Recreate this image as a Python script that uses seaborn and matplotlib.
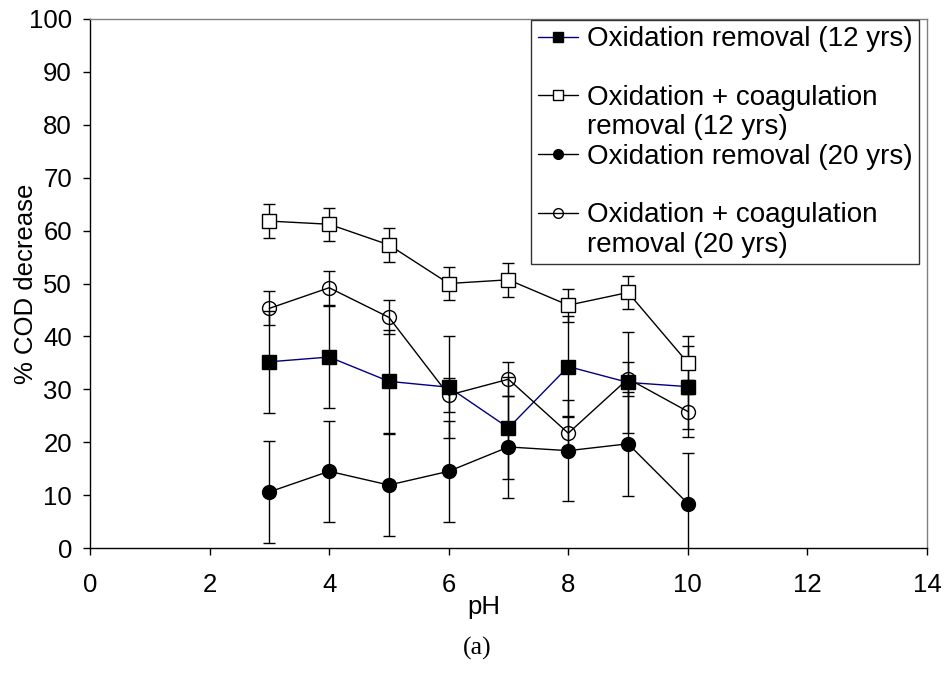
import matplotlib
matplotlib.use("Agg")
import matplotlib.pyplot as plt
from matplotlib.lines import Line2D
import seaborn as sns
import pandas as pd

ph = [3, 4, 5, 6, 7, 8, 9, 10]
ox12 = [35.2, 36.1, 31.5, 30.4, 22.7, 34.3, 31.3, 30.5]
ox12_err = [9.6, 9.6, 9.7, 9.6, 9.6, 9.6, 9.6, 9.6]
oxco12 = [61.8, 61.2, 57.3, 50.0, 50.7, 45.9, 48.3, 35.0]
oxco12_err = [3.2, 3.1, 3.2, 3.2, 3.2, 3.1, 3.1, 3.2]
ox20 = [10.6, 14.5, 11.9, 14.5, 19.1, 18.4, 19.7, 8.4]
ox20_err = [9.6, 9.6, 9.6, 9.5, 9.7, 9.6, 9.8, 9.6]
oxco20 = [45.3, 49.2, 43.6, 28.9, 31.9, 21.7, 32.0, 25.8]
oxco20_err = [3.2, 3.2, 3.2, 3.2, 3.2, 3.2, 3.2, 3.3]

labels = ["Oxidation removal (12 yrs)",
          "Oxidation + coagulation\nremoval (12 yrs)",
          "Oxidation removal (20 yrs)",
          "Oxidation + coagulation\nremoval (20 yrs)"]
x_ticks = [0, 2, 4, 6, 8, 10, 12, 14]
y_ticks = [0, 10, 20, 30, 40, 50, 60, 70, 80, 90, 100]

sns.set_theme(style="ticks")
plt.rcParams['font.family'] = ['Liberation Sans', 'DejaVu Sans']
plt.rcParams['text.color'] = 'black'
plt.rcParams['axes.labelcolor'] = 'black'

fig = plt.figure(figsize=(9.45, 6.74), dpi=100)
ax = fig.add_axes([90/945, 1-548/674, 837/945, 529/674])

series = [
    (ox12, ox12_err, dict(marker='s', markerfacecolor='black', markeredgecolor='black', color='#000080')),
    (oxco12, oxco12_err, dict(marker='s', markerfacecolor='white', markeredgecolor='black', color='black')),
    (ox20, ox20_err, dict(marker='o', markerfacecolor='black', markeredgecolor='black', color='black')),
    (oxco20, oxco20_err, dict(marker='o', markerfacecolor='none', markeredgecolor='black', color='black')),
]

for vals, err, st in series:
    ax.errorbar(ph, vals, yerr=err, fmt='none', ecolor='black', elinewidth=1.0,
                capsize=4, capthick=1.0, zorder=2)

for i, (vals, err, st) in enumerate(series):
    df = pd.DataFrame({"pH": ph, "v": vals})
    sns.lineplot(data=df, x="pH", y="v", ax=ax, linewidth=1.0, markersize=10,
                 markeredgewidth=1.0, zorder=3 + i, **st)

ax.set_xlim(0, 14)
ax.set_ylim(0, 100)
ax.set_xticks(x_ticks)
ax.set_yticks(y_ticks)
ax.tick_params(axis='both', labelsize=18.5, direction='out', length=5, width=1,
               color='black', labelcolor='black')
ax.tick_params(axis='x', pad=13)
ax.tick_params(axis='y', pad=8)
for s in ['left', 'bottom']:
    ax.spines[s].set_color('black')
    ax.spines[s].set_linewidth(1.0)
for s in ['top', 'right']:
    ax.spines[s].set_visible(True)
    ax.spines[s].set_color('#808080')
    ax.spines[s].set_linewidth(1.0)

ax.set_xlabel("pH", fontsize=18.5, labelpad=0, color='black')
ax.xaxis.set_label_coords(0.471, -0.089)
ax.set_ylabel("% COD decrease", fontsize=18.5, color='black')
ax.yaxis.set_label_coords(-0.062, 0.5)

# legend with handles aligned to the first text line of each entry
blank = Line2D([], [], linestyle='none', marker=None)
handles, texts = [], []
for (vals, err, st), lab in zip(series, labels):
    h = Line2D([], [], linewidth=1.0, markersize=7, markeredgewidth=1.0, **st)
    lines = lab.split("\n")
    handles.append(h)
    texts.append(lines[0])
    if len(lines) > 1:
        handles.append(blank)
        texts.append(lines[1])
    else:
        handles.append(blank)
        texts.append(" ")
leg = ax.legend(handles, texts, loc='upper right', bbox_to_anchor=(0.9905, 0.9985),
                borderaxespad=0, fontsize=20, frameon=True, fancybox=False,
                edgecolor='black', labelspacing=0.12, handlelength=1.45,
                handletextpad=0.32, borderpad=0.24)
leg.get_frame().set_linewidth(1.0)
for t in leg.get_texts():
    t.set_color('black')

fig.text(477/945, 1-648/674, "(a)", fontsize=18.5, ha='center', va='center',
         family=['Liberation Serif', 'DejaVu Serif'], color='black')

fig.savefig("out.png", dpi=100)
